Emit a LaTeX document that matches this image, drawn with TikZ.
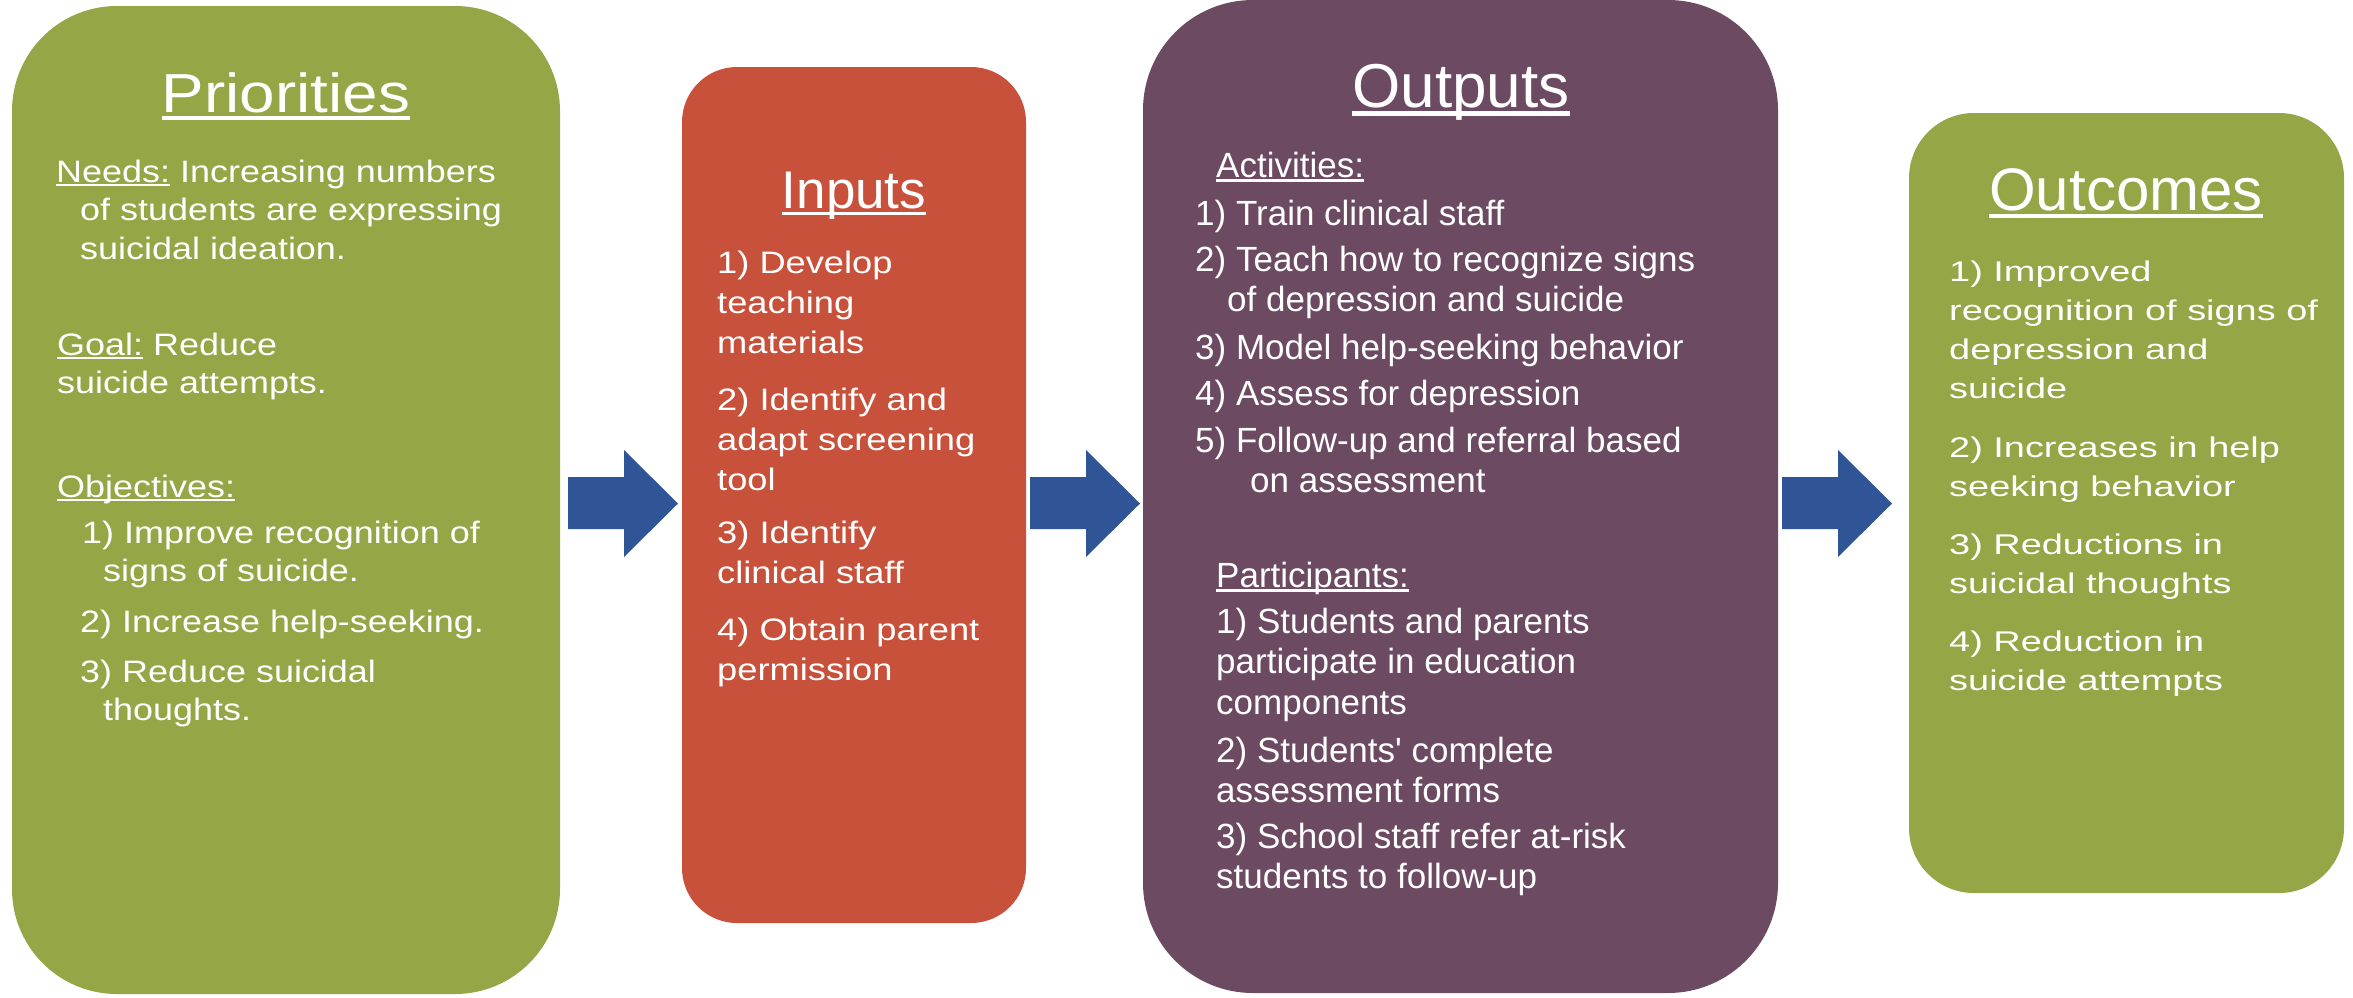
\documentclass[tikz,border=0pt]{standalone}
\usepackage{fontspec}
\setmainfont{Liberation Sans}
\newfontfamily\prifont[FakeStretch=1.16]{Liberation Sans}
\newfontfamily\infont[FakeStretch=1.17]{Liberation Sans}
\newfontfamily\ocfont[FakeStretch=1.33]{Liberation Sans}

\definecolor{prigreen}{RGB}{148,166,69}
\definecolor{inred}{RGB}{199,81,58}
\definecolor{outplum}{RGB}{107,74,98}
\definecolor{arrowblue}{RGB}{47,85,151}

% underlined heading word, rule kept at a fixed drop below the baseline
\newcommand\ulin[1]{\setbox0=\hbox{#1}\rlap{\rule[-0.14em]{\wd0}{0.07em}}\box0{}}
% left aligned lines, baseline of the node is the first line
\newcommand\txtlines[1]{\vtop{\halign{##\hfil\cr#1\crcr}}}

\tikzset{
  boxtext/.style={inner sep=0pt, anchor=base west, text=white},
  headline/.style={inner sep=0pt, anchor=base, text=white},
  pritext/.style={boxtext, font={\prifont\fontsize{31}{38.5}\selectfont}},
  intext/.style={boxtext, font={\infont\fontsize{31}{40}\selectfont}},
  outtext/.style={boxtext, font={\fontsize{35}{40.5}\selectfont}},
  octext/.style={boxtext, font={\ocfont\fontsize{28.5}{39}\selectfont}},
}

\begin{document}
\begin{tikzpicture}[x=1pt,y=-1pt]
\useasboundingbox (0,0) rectangle (2353,997);

% the four panels
\fill[prigreen, rounded corners=105pt] (12,6) rectangle (560,994);
\fill[inred, rounded corners=55pt] (682,67) rectangle (1026,923);
\fill[outplum, rounded corners=110pt] (1143,0) rectangle (1778,993);
\fill[prigreen, rounded corners=65pt] (1909,113) rectangle (2344,893);

% block arrows between the panels
\foreach \x in {568,1030,1782}
  \fill[arrowblue] (\x,477) -- ++(56,0) -- ++(0,-27) -- ++(54,53.5)
    -- ++(-54,53.5) -- ++(0,-28) -- ++(-56,0) -- cycle;

% Priorities
\node[headline, font={\prifont\fontsize{55}{60}\selectfont}] (priT) at (286,112) {\ulin{Priorities}};
\node[pritext] (needs) at (56,182) {\txtlines{\ulin{Needs:} Increasing numbers\cr
  \hskip24pt of students are expressing\cr
  \hskip24pt suicidal ideation.}};
\node[pritext] (goal) at (57,355) {\txtlines{\ulin{Goal:} Reduce\cr suicide attempts.}};
\node[pritext] (objT) at (57,497) {\ulin{Objectives:}};
\node[pritext] (obj1) at (82,543) {\txtlines{1) Improve recognition of\cr
  \hskip21pt signs of suicide.}};
\node[pritext] (obj2) at (80,632) {2) Increase help-seeking.};
\node[pritext] (obj3) at (80,682) {\txtlines{3) Reduce suicidal\cr
  \hskip23pt thoughts.}};

% Inputs
\node[headline, font={\fontsize{53}{58}\selectfont}] (inT) at (854,208) {\ulin{Inputs}};
\node[intext] (in1) at (717,273) {\txtlines{1) Develop\cr teaching\cr materials}};
\node[intext] (in2) at (717,410) {\txtlines{2) Identify and\cr adapt screening\cr tool}};
\node[intext] (in3) at (717,543) {\txtlines{3) Identify\cr clinical staff}};
\node[intext] (in4) at (717,640) {\txtlines{4) Obtain parent\cr permission}};

% Outputs
\node[headline, font={\fontsize{62}{66}\selectfont}] (outT) at (1461,107) {\ulin{Outputs}};
\node[outtext] (actT) at (1216,177) {\ulin{Activities:}};
\node[outtext] (act1) at (1195,225) {1) Train clinical staff};
\node[outtext] (act2) at (1195,271) {\txtlines{2) Teach how to recognize signs\cr
  \hskip32pt of depression and suicide}};
\node[outtext] (act3) at (1195,359) {3) Model help-seeking behavior};
\node[outtext] (act4) at (1195,405) {4) Assess for depression};
\node[outtext] (act5) at (1195,452) {\txtlines{5) Follow-up and referral based\cr
  \hskip55pt on assessment}};
\node[outtext] (partT) at (1216,587) {\ulin{Participants:}};
\node[outtext] (part1) at (1216,633) {\txtlines{1) Students and parents\cr
  participate in education\cr components}};
\node[outtext] (part2) at (1216,762) {\txtlines{2) Students\textquotesingle\ complete\cr assessment forms}};
\node[outtext] (part3) at (1216,848) {\txtlines{3) School staff refer at-risk\cr
  students to follow-up}};

% Outcomes
\node[headline, font={\fontsize{60}{64}\selectfont}] (ocT) at (2126,210) {\ulin{Outcomes}};
\node[octext] (oc1) at (1949,281) {\txtlines{1) Improved\cr recognition of signs of\cr
  depression and\cr suicide}};
\node[octext] (oc2) at (1949,457) {\txtlines{2) Increases in help\cr seeking behavior}};
\node[octext] (oc3) at (1949,554) {\txtlines{3) Reductions in\cr suicidal thoughts}};
\node[octext] (oc4) at (1949,651) {\txtlines{4) Reduction in\cr suicide attempts}};
\end{tikzpicture}
\end{document}
